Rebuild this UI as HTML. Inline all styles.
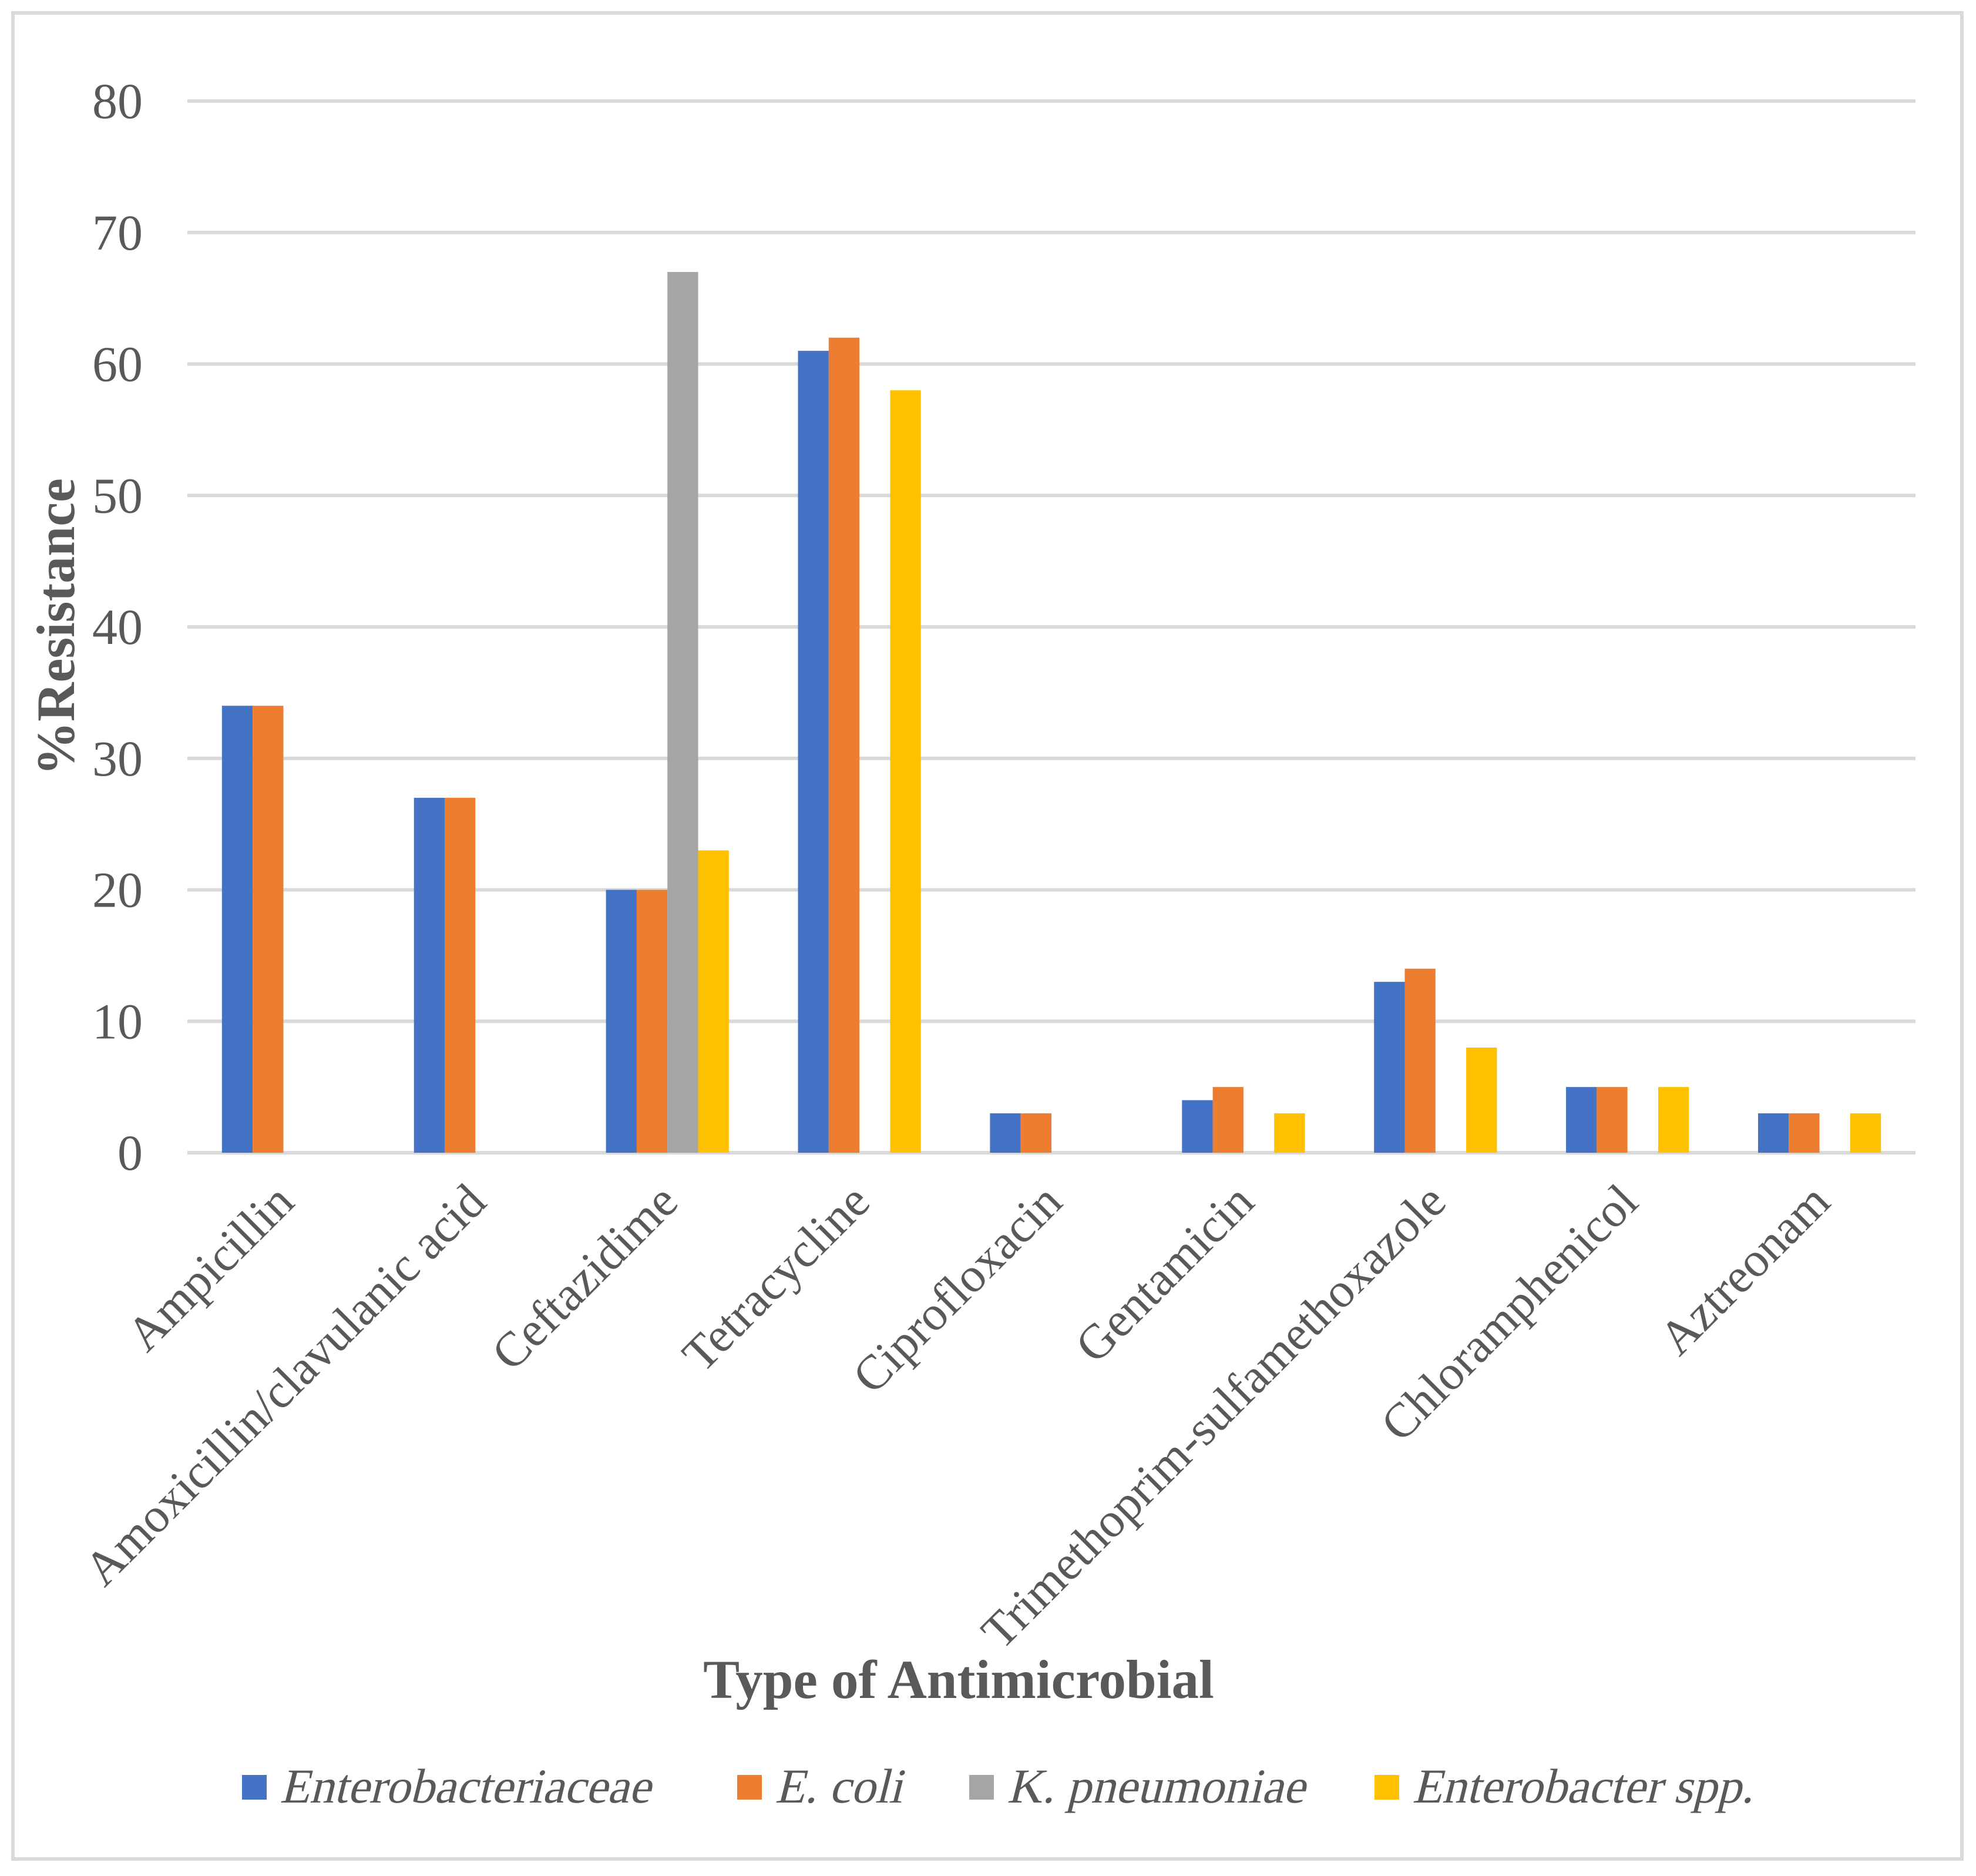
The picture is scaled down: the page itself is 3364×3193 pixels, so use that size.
<!DOCTYPE html>
<html><head><meta charset="utf-8"><style>
html,body{margin:0;padding:0;background:#fff}
svg{display:block}
text{font-family:"Liberation Serif","DejaVu Serif",serif;fill:#595959}
</style></head><body>
<svg id="chart" width="3364" height="3193" viewBox="0 0 3364 3193" xmlns="http://www.w3.org/2000/svg">
<rect x="22" y="22" width="3318" height="3142" fill="#fff" stroke="#d9d9d9" stroke-width="6"/>
<g id="grid"></g>
<g id="bars"></g>
<g id="ylabels"></g>
<g id="xlabels"></g>
<text transform="translate(126,1067) rotate(-90)" text-anchor="middle" font-size="92" font-weight="bold">%Resistance</text>
<text x="1632" y="2890" text-anchor="middle" font-size="93" font-weight="bold">Type of Antimicrobial</text>
<g id="legend"></g>
</svg>
<script>
const categories = ["Ampicillin","Amoxicillin/clavulanic acid","Ceftazidime","Tetracycline","Ciprofloxacin","Gentamicin","Trimethoprim-sulfamethoxazole","Chloramphenicol","Aztreonam"];
const seriesNames = ["Enterobacteriaceae","E. coli","K. pneumoniae","Enterobacter spp."];
const enterobacteriaceae = [34,27,20,61,3,4,13,5,3];
const eColi = [34,27,20,62,3,5,14,5,3];
const kPneumoniae = [0,0,67,0,0,0,0,0,0];
const enterobacterSpp = [0,0,23,58,0,3,8,5,3];
const yTicks = [0,10,20,30,40,50,60,70,80];
const colors = ["#4472C4","#ED7D31","#A5A5A5","#FFC000"];
const series = [enterobacteriaceae,eColi,kPneumoniae,enterobacterSpp];
const NS="http://www.w3.org/2000/svg";
const x0=319,x1=3261,yTop=172,yBot=1962,yMax=80;
const y=v=>yBot-(v/yMax)*(yBot-yTop);
const band=(x1-x0)/categories.length;
const barW=band*0.16;
function mk(tag,attrs,parent){const e=document.createElementNS(NS,tag);for(const k in attrs)e.setAttribute(k,attrs[k]);document.getElementById(parent).appendChild(e);return e;}
yTicks.forEach(t=>{
  const l=mk('line',{x1:x0,x2:x1,y1:y(t),y2:y(t),stroke:'#d9d9d9','stroke-width':6},'grid');
  
  
  const tx=mk('text',{x:243,y:y(t)+29,'text-anchor':'end','font-size':86},'ylabels');
  tx.textContent=t;
  
  
});
categories.forEach((c,i)=>{
  const cx=x0+band*(i+0.5);
  series.forEach((s,j)=>{
    const v=s[i]; if(!v) return;
    const r=mk('rect',{x:cx-2*barW+j*barW,y:y(v),width:barW,height:yBot-y(v),fill:colors[j]},'bars');
    
    
  });
  const ax=cx+22, ay=2050;
  const t=mk('text',{x:ax,y:ay,'text-anchor':'end','font-size':83,transform:`rotate(-45 ${ax} ${ay})`},'xlabels');
  t.textContent=c;
  
  
});
const lx=[412,1255,1650,2340];
seriesNames.forEach((n,j)=>{
  const r=mk('rect',{x:lx[j],y:3021,width:42,height:42,fill:colors[j]},'legend');
  
  
  const tx=lx[j]+64, ty=3068;
  const t=mk('text',{x:tx,y:ty,'font-size':83,transform:`translate(${tx} ${ty}) skewX(-14) translate(${-tx} ${-ty})`},'legend');
  t.textContent=n;
  
  
});
</script>
</body></html>
